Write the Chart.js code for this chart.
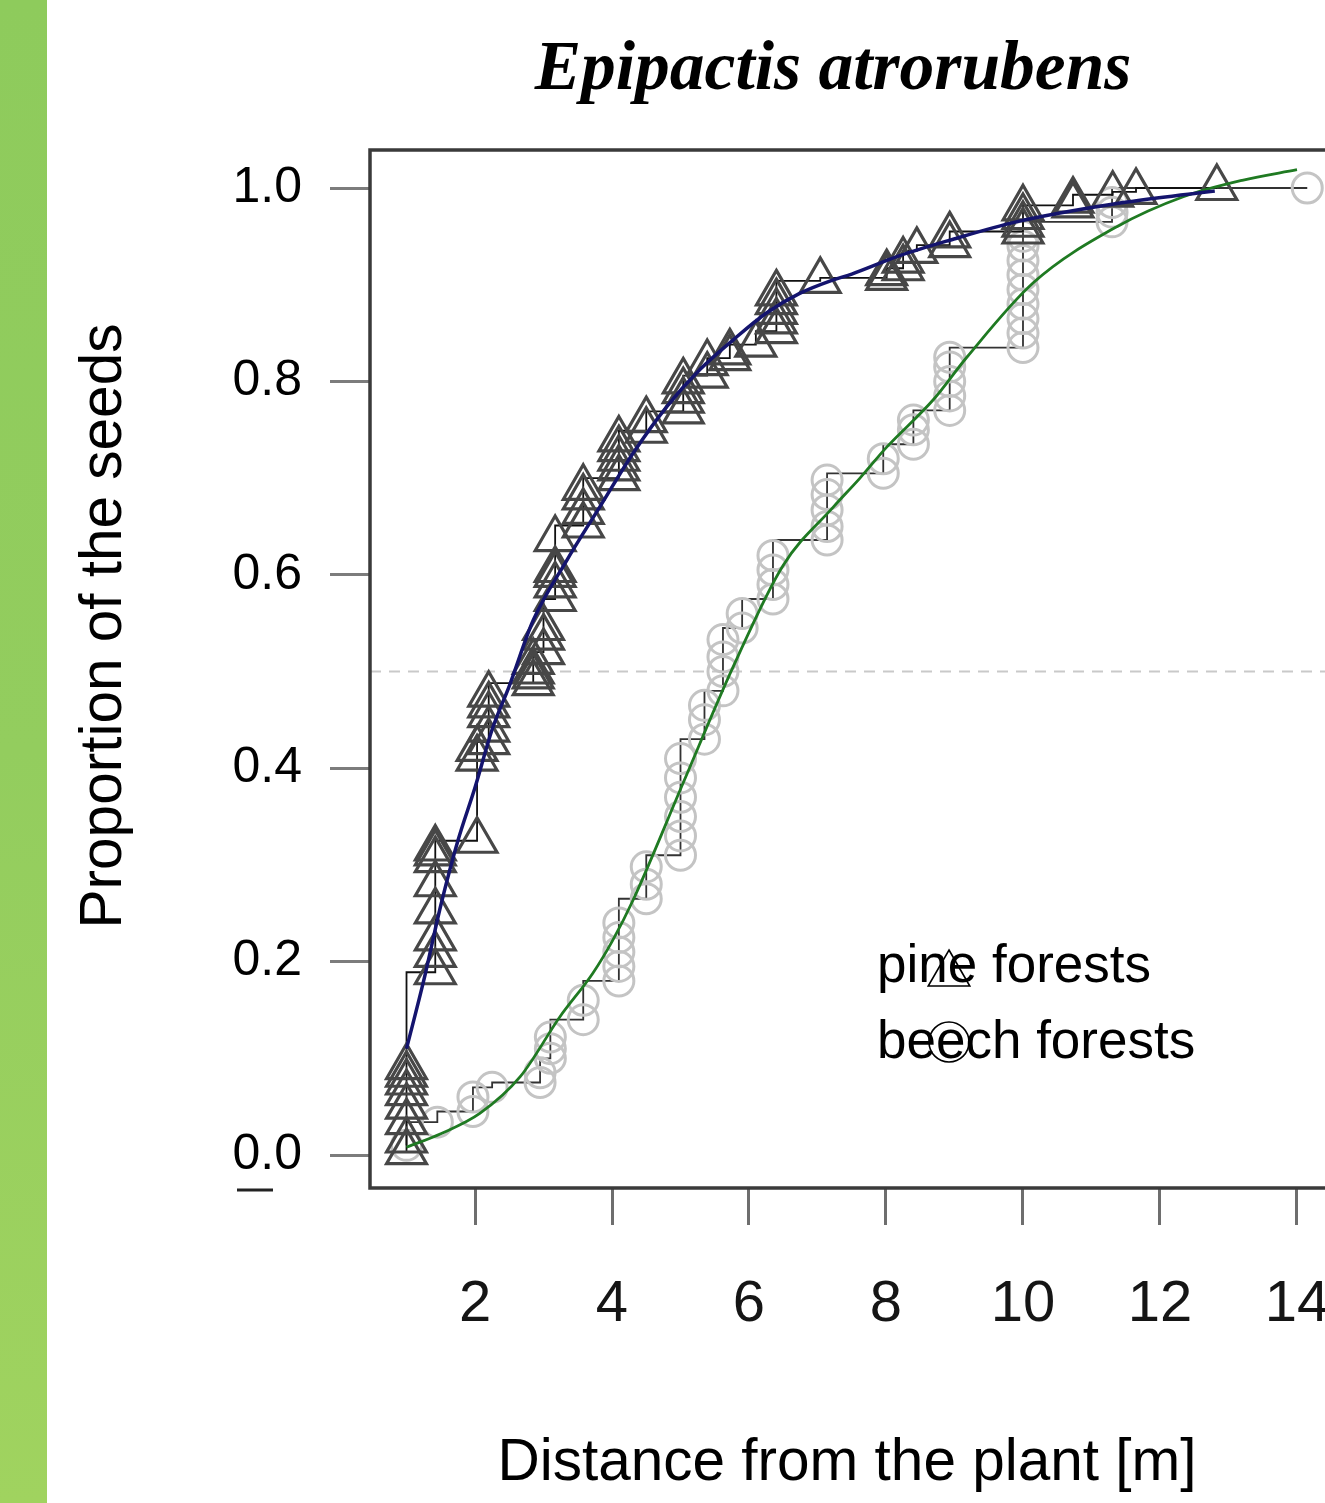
<!DOCTYPE html>
<html><head><meta charset="utf-8">
<script src="https://cdn.jsdelivr.net/npm/chart.js@4/dist/chart.umd.min.js"></script>
<style>
html,body{margin:0;padding:0;background:#fff;width:1325px;height:1503px;overflow:hidden}
#side{position:absolute;left:0;top:0;width:47px;height:1503px;z-index:2;background:linear-gradient(180deg,#8ecb5c 0%,#93cd5e 50%,#a0d35f 100%)}
#wrap{position:absolute;left:0;top:0;width:1400px;height:1503px}
</style></head><body>
<div id="side"></div>
<div id="wrap"><canvas id="c" width="1400" height="1503"></canvas></div>
<script>
// ---- data ----
const xTicks = [2, 4, 6, 8, 10, 12, 14];
const yTicks = [0, 0.2, 0.4, 0.6, 0.8, 1.0];
const xRange = [0.467, 14.701];
const yRange = [-0.0341, 1.0393];
const halfLine = 0.5;

// pine forests (triangles), empirical cumulative proportions
const pineX = [1.0,1.0,1.0,1.0,1.0,1.0,1.0,1.0,
  1.42,1.42,1.42,1.42,1.42,1.42,1.42,1.42,
  2.03,2.03,2.03,
  2.2,2.2,2.2,2.2,2.2,
  2.85,2.85,2.85,2.85,
  3.0,3.0,3.0,
  3.17,3.17,3.17,3.17,3.17,
  3.58,3.58,3.58,3.58,
  4.1,4.1,4.1,4.1,4.1,
  4.5,4.5,
  5.04,5.04,5.04,5.04,
  5.39,5.39,
  5.72,5.72,
  6.1,
  6.4,6.4,6.4,6.4,6.4,
  7.04,
  8.01,8.01,
  8.25,8.25,
  8.45,
  8.93,8.93,
  10.0,10.0,10.0,10.0,
  10.73,10.73,
  11.31,
  11.65,
  12.83];
const pineY = [0.003,0.015,0.034,0.05,0.064,0.075,0.083,0.091,
  0.189,0.207,0.224,0.252,0.28,0.305,0.312,0.317,
  0.325,0.41,0.42,
  0.427,0.44,0.455,0.465,0.476,
  0.488,0.495,0.50,0.51,
  0.52,0.535,0.545,
  0.575,0.589,0.60,0.605,0.637,
  0.651,0.665,0.68,0.69,
  0.70,0.71,0.72,0.73,0.74,
  0.749,0.76,
  0.769,0.78,0.79,0.80,
  0.806,0.819,
  0.824,0.83,
  0.838,
  0.852,0.862,0.872,0.882,0.891,
  0.904,
  0.907,0.912,
  0.917,0.925,
  0.935,
  0.941,0.951,
  0.955,0.962,0.97,0.979,
  0.982,0.987,
  0.993,
  0.996,
  1.0];

// beech forests (circles)
const beechX = [1.0,
  1.45,
  1.97,1.97,
  2.25,
  2.95,2.95,
  3.1,3.1,3.1,
  3.58,3.58,
  4.1,4.1,4.1,4.1,4.1,
  4.5,4.5,4.5,
  5.0,5.0,5.0,5.0,5.0,5.0,
  5.35,5.35,5.35,
  5.62,5.62,5.62,5.62,
  5.9,5.9,
  6.35,6.35,6.35,6.35,
  7.14,7.14,7.14,7.14,7.14,
  7.96,7.96,
  8.4,8.4,8.4,
  8.93,8.93,8.93,8.93,8.93,
  10.0,10.0,10.0,10.0,10.0,10.0,10.0,10.0,10.0,
  11.3,11.3,11.3,
  14.15];
const beechY = [0.01,
  0.034,
  0.045,0.06,
  0.07,
  0.075,0.085,
  0.10,0.11,0.122,
  0.14,0.16,
  0.18,0.195,0.21,0.225,0.24,
  0.265,0.28,0.298,
  0.31,0.33,0.35,0.37,0.39,0.41,
  0.43,0.45,0.465,
  0.48,0.50,0.515,0.533,
  0.545,0.56,
  0.575,0.59,0.605,0.62,
  0.636,0.65,0.667,0.683,0.698,
  0.705,0.72,
  0.735,0.75,0.76,
  0.77,0.785,0.80,0.815,0.825,
  0.835,0.85,0.865,0.88,0.895,0.91,0.925,0.94,0.95,
  0.965,0.975,0.985,
  1.0];

// fitted curves
const pineFitX = [1.0,1.25,1.5,1.75,2.0,2.25,2.5,2.85,3.34,3.82,4.31,4.8,5.28,5.77,6.26,6.74,7.23,7.5,8.2,8.93,9.9,11.37,12.58,12.8];
const pineFitY = [0.11,0.18,0.258,0.325,0.38,0.44,0.485,0.553,0.615,0.67,0.726,0.774,0.812,0.843,0.871,0.891,0.905,0.911,0.93,0.946,0.965,0.984,0.995,0.997];
const beechFitX = [1.0,1.5,2.07,2.66,3.24,3.72,4.01,4.31,5.04,5.77,6.5,7.23,7.62,8.01,8.69,9.18,10.15,11.37,12.34,13.2,14.0];
const beechFitY = [0.008,0.022,0.043,0.081,0.143,0.188,0.222,0.264,0.385,0.505,0.61,0.67,0.70,0.732,0.781,0.825,0.902,0.96,0.991,1.008,1.019];

const titleText = 'Epipactis atrorubens';
const xTitle = 'Distance from the plant [m]';
const yTitle = 'Proportion of the seeds';
const legendLabels = ['pine forests', 'beech forests'];

// ---- build ----
const pts = (xs, ys) => xs.map((x, i) => ({x, y: ys[i]}));
const SANS = '"Liberation Sans", Arial, sans-serif';

const decor = {
  id: 'decor',
  afterDraw(chart) {
    const ctx = chart.ctx, a = chart.chartArea;
    ctx.save();
    // box (left, top, bottom)
    ctx.strokeStyle = '#3a3a3a';
    ctx.lineWidth = 3.5;
    ctx.beginPath();
    ctx.moveTo(a.right + 5, a.top);
    ctx.lineTo(a.left, a.top);
    ctx.lineTo(a.left, a.bottom);
    ctx.lineTo(a.right + 5, a.bottom);
    ctx.stroke();
    // small dash under the lowest y label
    ctx.strokeStyle = '#222';
    ctx.lineWidth = 3;
    ctx.beginPath();
    ctx.moveTo(237, 1190);
    ctx.lineTo(273, 1190);
    ctx.stroke();
    // titles
    ctx.fillStyle = '#000';
    ctx.font = 'italic bold 69.5px "Liberation Serif", "Times New Roman", serif';
    ctx.textAlign = 'center';
    ctx.textBaseline = 'alphabetic';
    ctx.fillText(titleText, 833, 89);
    ctx.font = '58.5px ' + SANS;
    ctx.fillText(xTitle, 847, 1480);
    ctx.save();
    ctx.translate(121, 626);
    ctx.rotate(-Math.PI / 2);
    ctx.font = '58.5px ' + SANS;
    ctx.fillText(yTitle, 0, 0);
    ctx.restore();
    // legend
    ctx.textAlign = 'left';
    ctx.font = '53px ' + SANS;
    ctx.fillText(legendLabels[0], 877, 982);
    ctx.fillText(legendLabels[1], 877, 1058);
    ctx.strokeStyle = '#000';
    ctx.lineWidth = 1.6;
    const r = 24, cx = 949, cy = 974;
    ctx.beginPath();
    ctx.moveTo(cx, cy - r);
    ctx.lineTo(cx + r * Math.sin(2 * Math.PI / 3), cy + r / 2);
    ctx.lineTo(cx - r * Math.sin(2 * Math.PI / 3), cy + r / 2);
    ctx.closePath();
    ctx.stroke();
    ctx.beginPath();
    ctx.arc(949, 1042, 20, 0, Math.PI * 2);
    ctx.stroke();
    ctx.restore();
  }
};

new Chart(document.getElementById('c'), {
  type: 'scatter',
  data: {
    datasets: [
      {
        label: 'pine fit', data: pts(pineFitX, pineFitY), showLine: true,
        borderColor: '#14146e', borderWidth: 3.5, pointRadius: 0,
        cubicInterpolationMode: 'monotone', order: 0
      },
      {
        label: 'beech fit', data: pts(beechFitX, beechFitY), showLine: true,
        borderColor: '#1f7a22', borderWidth: 2.8, pointRadius: 0,
        cubicInterpolationMode: 'monotone', order: 1
      },
      {
        label: 'pine forests', data: pts(pineX, pineY), showLine: true, stepped: 'after',
        borderColor: '#111', borderWidth: 1.8,
        pointStyle: 'triangle', pointRadius: 23, pointBorderColor: '#474747',
        pointBorderWidth: 3.2, pointBackgroundColor: 'rgba(0,0,0,0)', order: 2
      },
      {
        label: 'beech forests', data: pts(beechX, beechY), showLine: true, stepped: 'after',
        borderColor: '#333', borderWidth: 1.8,
        pointStyle: 'circle', pointRadius: 15, pointBorderColor: '#c4c4c4',
        pointBorderWidth: 3, pointBackgroundColor: 'rgba(0,0,0,0)', order: 3
      },
      {
        label: 'half', data: [{x: xRange[0], y: halfLine}, {x: xRange[1], y: halfLine}],
        showLine: true, borderColor: '#c9c9c9', borderWidth: 2, borderDash: [11, 8],
        pointRadius: 0, order: 4
      }
    ]
  },
  options: {
    responsive: false, animation: false, events: [],
    layout: {padding: {top: 150, left: 0, right: 55, bottom: 0}},
    plugins: {legend: {display: false}, tooltip: {enabled: false}, title: {display: false}},
    scales: {
      x: {
        type: 'linear', min: xRange[0], max: xRange[1],
        afterBuildTicks: s => { s.ticks = xTicks.map(v => ({value: v})); },
        afterFit: s => { s.height = 315; },
        border: {display: false},
        grid: {display: true, drawOnChartArea: false, drawTicks: true, tickLength: 37, color: '#6e6e6e', lineWidth: 3},
        ticks: {font: {family: SANS, size: 58}, color: '#151515', padding: 45, maxRotation: 0, autoSkip: false,
          callback: v => String(v)}
      },
      y: {
        type: 'linear', min: yRange[0], max: yRange[1],
        afterBuildTicks: s => { s.ticks = yTicks.map(v => ({value: v})); },
        afterFit: s => { s.width = 370; },
        border: {display: false},
        grid: {display: true, drawOnChartArea: false, drawTicks: true, tickLength: 40, color: '#7c7c7c', lineWidth: 3},
        ticks: {font: {family: SANS, size: 50}, color: '#000', padding: 28, autoSkip: false,
          callback: v => v.toFixed(1)}
      }
    }
  },
  plugins: [decor]
});
</script>
</body></html>
